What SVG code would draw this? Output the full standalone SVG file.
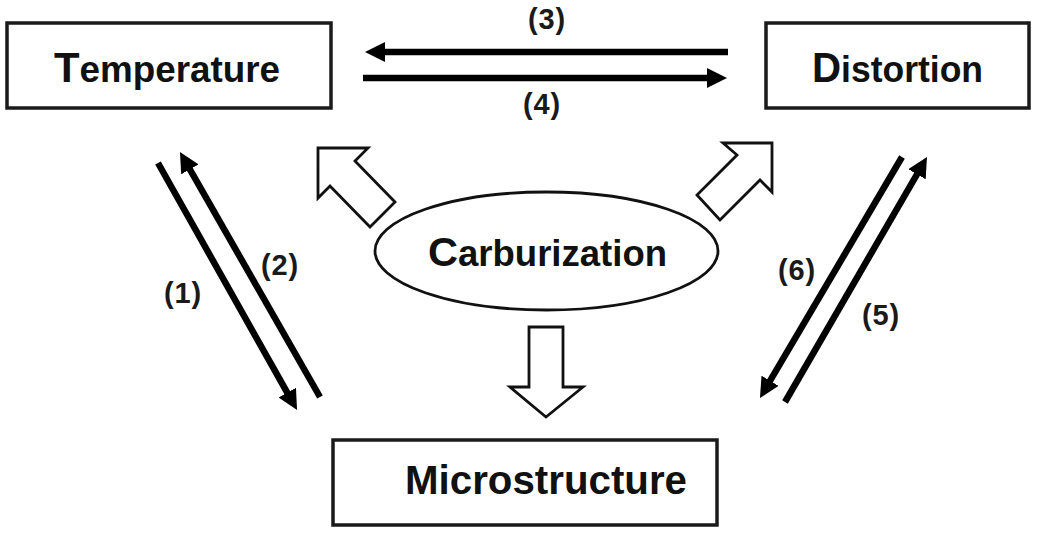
<svg xmlns="http://www.w3.org/2000/svg" width="1037" height="534" viewBox="0 0 1037 534">
  <defs>
    <style>
      .box { fill: #ffffff; stroke: #1a1a1a; stroke-width: 3.5; }
      .ell { fill: #ffffff; stroke: #111111; stroke-width: 2.8; }
      .title { font-family: "Liberation Sans", Arial, sans-serif; font-weight: bold; fill: #111111; text-anchor: middle; }
      .lbl { font-family: "Liberation Sans", Arial, sans-serif; font-weight: bold; font-size: 29px; fill: #1a1a1a; text-anchor: middle; letter-spacing: 0.8px; }
      .line { stroke: #000000; stroke-width: 6.5; fill: none; marker-end: url(#head); }
      .hollow { fill: #ffffff; stroke: #111111; stroke-width: 2.8; stroke-linejoin: miter; }
    </style>
    <marker id="head" viewBox="0 0 20 20" refX="4" refY="10" markerWidth="20" markerHeight="20" markerUnits="userSpaceOnUse" orient="auto">
      <path d="M0,0 L20,10 L0,20 z" fill="#000000"/>
    </marker>
  </defs>
  <rect width="1037" height="534" fill="#ffffff"/>

  <g id="node-temperature">
    <rect class="box" x="7" y="23" width="324" height="85"/>
    <text class="title" x="167" y="82" font-size="37" textLength="226" lengthAdjust="spacingAndGlyphs"><tspan font-size="42">T</tspan>emperature</text>
  </g>

  <g id="node-distortion">
    <rect class="box" x="766" y="23" width="263" height="85"/>
    <text class="title" x="897.5" y="82" font-size="37" textLength="171" lengthAdjust="spacingAndGlyphs"><tspan font-size="42">D</tspan>istortion</text>
  </g>

  <g id="node-carburization">
    <ellipse class="ell" cx="546.5" cy="251" rx="171.5" ry="59"/>
    <text class="title" x="547.5" y="266" font-size="36" textLength="239" lengthAdjust="spacingAndGlyphs"><tspan font-size="41">C</tspan>arburization</text>
  </g>

  <g id="node-microstructure">
    <rect class="box" x="333" y="440" width="384" height="85"/>
    <text class="title" x="546" y="494" font-size="40" textLength="282" lengthAdjust="spacingAndGlyphs">Microstructure</text>
  </g>

  <g id="connectors">
    <line class="line" x1="728" y1="52" x2="381" y2="52"/>
    <line class="line" x1="363" y1="78" x2="711" y2="78"/>
    <line class="line" x1="158" y1="163" x2="289.2" y2="396.1"/>
    <line class="line" x1="320" y1="397" x2="187.9" y2="165.9"/>
    <line class="line" x1="902" y1="157" x2="768.1" y2="384.2"/>
    <line class="line" x1="785" y1="402" x2="919" y2="170.8"/>
    <polygon class="hollow" points="318,148 368,148 355,161 395,202 370,227 330,186 318,198"/>
    <polygon class="hollow" points="772,143 723,143 737,155 697,195 720,220 760,180 772,192"/>
    <polygon class="hollow" points="529,327 563,327 563,387 583,387 546,417 510,387 529,387"/>
  </g>

  <g id="labels">
    <text class="lbl" x="547" y="29">(3)</text>
    <text class="lbl" x="542" y="114">(4)</text>
    <text class="lbl" x="183" y="303">(1)</text>
    <text class="lbl" x="280" y="275">(2)</text>
    <text class="lbl" x="797" y="280">(6)</text>
    <text class="lbl" x="881" y="325">(5)</text>
  </g>
</svg>
